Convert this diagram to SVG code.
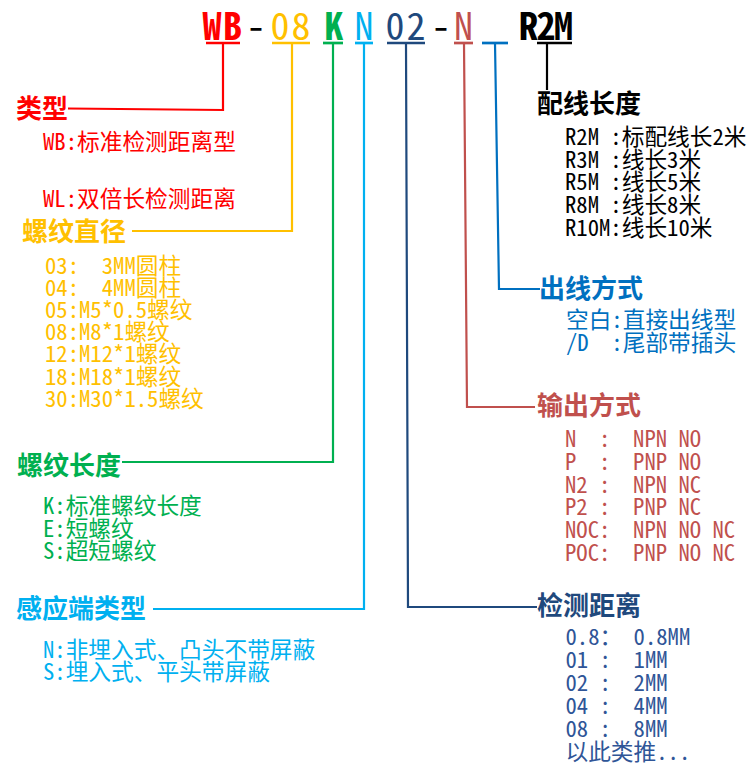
<svg xmlns="http://www.w3.org/2000/svg" width="752" height="763" viewBox="0 0 752 763">
<style>
  .code { font-family: "Noto Sans Mono CJK SC", "Noto Sans CJK SC", "DejaVu Sans Mono", monospace; font-size: 38px; text-anchor: middle; }
  .hd { font-family: "Noto Sans CJK SC", "Noto Sans", sans-serif; font-size: 26px; font-weight: 700; }
  .bd { font-family: "Noto Sans Mono CJK SC", "Noto Sans CJK SC", "DejaVu Sans Mono", monospace; font-size: 22.7px; white-space: pre; }
  .ln { fill: none; stroke-width: 2.2; stroke-linejoin: miter; }
  .ul { stroke-width: 2.7; }
  .red { fill: #FF0000; } .sred { stroke: #FF0000; }
  .org { fill: #FFC000; } .sorg { stroke: #FFC000; }
  .grn { fill: #00B050; } .sgrn { stroke: #00B050; }
  .cyn { fill: #00B0F0; } .scyn { stroke: #00B0F0; }
  .nav { fill: #1F497D; } .snav { stroke: #1F497D; }
  .nav2 { fill: #2F5597; }
  .brn { fill: #C0504D; } .sbrn { stroke: #C0504D; }
  .blu { fill: #0070C0; } .sblu { stroke: #0070C0; }
  .blk { fill: #000000; } .sblk { stroke: #000000; }
</style>
<rect width="752" height="763" fill="#FFFFFF"/>

<g id="code">
  <text class="code" y="40"><tspan class="red" font-weight="700" x="212 232.5">WB</tspan><tspan class="blk" x="256">-</tspan><tspan class="org" x="280 301">08</tspan><tspan class="grn" font-weight="700" x="334">K</tspan><tspan class="cyn" x="364">N</tspan><tspan class="nav" x="395 416">02</tspan><tspan class="blk" x="441">-</tspan><tspan class="brn" x="463.5">N</tspan><tspan class="blk" font-weight="700" x="528.5 546 563.5">R2M</tspan></text>
</g>

<g id="connectors">
  <line class="ln ul sred" x1="206" y1="43" x2="240" y2="43"/>
  <polyline class="ln sred" points="223,43 223,110 68,108.5"/>
  <line class="ln ul sorg" x1="272" y1="43" x2="310" y2="43"/>
  <polyline class="ln sorg" points="292,43 292,231 132,231"/>
  <line class="ln ul sgrn" x1="323" y1="43" x2="343" y2="43"/>
  <polyline class="ln sgrn" points="333,43 333,462 122,462"/>
  <line class="ln ul scyn" x1="355" y1="43" x2="373" y2="43"/>
  <polyline class="ln scyn" points="364,43 364,609 153,609"/>
  <line class="ln ul snav" x1="387" y1="43" x2="425" y2="43"/>
  <polyline class="ln snav" points="406,43 408,607 537,607"/>
  <line class="ln ul sbrn" x1="454" y1="43" x2="473" y2="43"/>
  <polyline class="ln sbrn" points="464,43 467,407 535,407"/>
  <line class="ln ul sblu" x1="482" y1="43" x2="508" y2="43"/>
  <polyline class="ln sblu" points="495,43 499,289 540,289"/>
  <line class="ln ul sblk" x1="537" y1="43" x2="572" y2="43"/>
  <line class="ln sblk" x1="547" y1="43" x2="547" y2="90"/>
</g>

<g id="type">
  <text class="hd red" x="16" y="118">类型</text>
  <text class="bd red" x="43" y="150">WB:标准检测距离型</text>
  <text class="bd red" x="43" y="207">WL:双倍长检测距离</text>
</g>

<g id="thread-diameter">
  <text class="hd org" x="22" y="241">螺纹直径</text>
  <text class="bd org" x="45" y="273.5">03:  3MM圆柱</text>
  <text class="bd org" x="45" y="295.7">04:  4MM圆柱</text>
  <text class="bd org" x="45" y="317.9">05:M5*0.5螺纹</text>
  <text class="bd org" x="45" y="340.1">08:M8*1螺纹</text>
  <text class="bd org" x="45" y="362.3">12:M12*1螺纹</text>
  <text class="bd org" x="45" y="384.5">18:M18*1螺纹</text>
  <text class="bd org" x="45" y="406.7">30:M30*1.5螺纹</text>
</g>

<g id="thread-length">
  <text class="hd grn" x="17" y="475">螺纹长度</text>
  <text class="bd grn" x="43" y="514">K:标准螺纹长度</text>
  <text class="bd grn" x="43" y="536.5">E:短螺纹</text>
  <text class="bd grn" x="43" y="559">S:超短螺纹</text>
</g>

<g id="sensing-type">
  <text class="hd cyn" x="16" y="618">感应端类型</text>
  <text class="bd cyn" x="43" y="658">N:非埋入式、凸头不带屏蔽</text>
  <text class="bd cyn" x="43" y="680">S:埋入式、平头带屏蔽</text>
</g>

<g id="cable-length">
  <text class="hd blk" x="537" y="113">配线长度</text>
  <text class="bd blk" x="565" y="145">R2M :标配线长2米</text>
  <text class="bd blk" x="565" y="167.7">R3M :线长3米</text>
  <text class="bd blk" x="565" y="190.3">R5M :线长5米</text>
  <text class="bd blk" x="565" y="213">R8M :线长8米</text>
  <text class="bd blk" x="565" y="235.6">R10M:线长10米</text>
</g>

<g id="outlet">
  <text class="hd blu" x="539" y="298">出线方式</text>
  <text class="bd blu" x="566" y="328">空白:直接出线型</text>
  <text class="bd blu" x="566" y="351">/D  :尾部带插头</text>
</g>

<g id="output">
  <text class="hd brn" x="537" y="415">输出方式</text>
  <text class="bd brn" x="565" y="446.7">N  :  NPN NO</text>
  <text class="bd brn" x="565" y="469.5">P  :  PNP NO</text>
  <text class="bd brn" x="565" y="492.5">N2 :  NPN NC</text>
  <text class="bd brn" x="565" y="515">P2 :  PNP NC</text>
  <text class="bd brn" x="565" y="538">NOC:  NPN NO NC</text>
  <text class="bd brn" x="565" y="560.5">POC:  PNP NO NC</text>
</g>

<g id="distance">
  <text class="hd nav" x="537" y="615">检测距离</text>
  <text class="bd nav2" x="565.5" y="645">0.8： 0.8MM</text>
  <text class="bd nav2" x="565.5" y="668">01 :  1MM</text>
  <text class="bd nav2" x="565.5" y="691">02 :  2MM</text>
  <text class="bd nav2" x="565.5" y="714">04 :  4MM</text>
  <text class="bd nav2" x="565.5" y="737">08 :  8MM</text>
  <text class="bd nav2" x="565.5" y="759.5">以此类推...</text>
</g>
</svg>
